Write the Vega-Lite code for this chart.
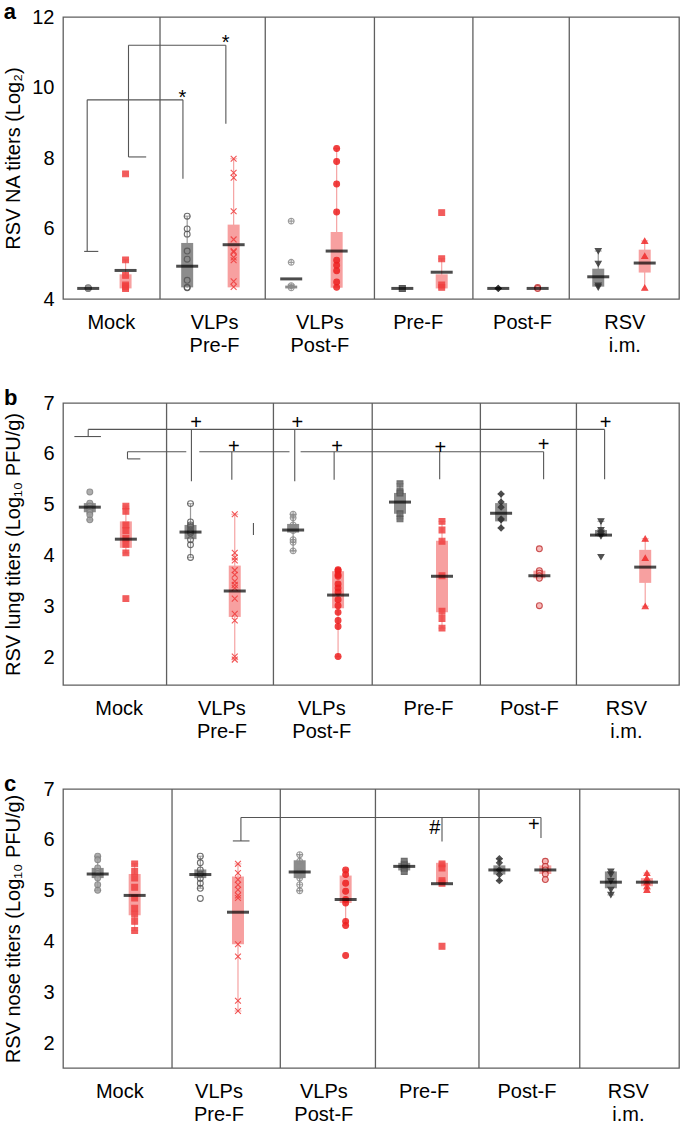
{
"$schema": "https://vega.github.io/schema/vega-lite/v6.json",
"padding": {"left": 3, "top": 0, "right": 0, "bottom": 0},
"spacing": 30,
"config": {
  "font": "Liberation Sans",
  "view": {"stroke": "#5f5f5f", "strokeWidth": 1.3},
  "axis": {"ticks": false, "domain": false, "grid": false, "labelFontSize": 20, "labelColor": "#000", "titleFontSize": 20, "titleFontWeight": "normal", "titleColor": "#000", "labelFont": "Liberation Sans", "titleFont": "Liberation Sans"},
  "axisX": {"labelPadding": 13, "labelLineHeight": 23, "labelOverlap": false, "labelFlush": false},
  "axisY": {"labelPadding": 9, "format": "d"},
  "title": {"anchor": "start", "frame": "bounds", "fontSize": 22, "fontWeight": "bold", "color": "#000", "offset": -17}
},
"datasets": {
"div": [
 {"p":"a","x":0.911},{"p":"a","x":1.953},{"p":"a","x":3.034},{"p":"a","x":4.009},{"p":"a","x":4.963},
 {"p":"b","x":0.976},{"p":"b","x":2.034},{"p":"b","x":3.012},{"p":"b","x":4.083},{"p":"b","x":5.034},
 {"p":"c","x":1.03},{"p":"c","x":2.102},{"p":"c","x":3.044},{"p":"c","x":4.069},{"p":"c","x":5.067}
],
"box": [
 {"id":"a|Mock|1","p":"a","g":"Mock","s":1,"x":0.2,"lo":4.3,"q1":4.3,"q3":4.3,"hi":4.3,"m":4.3},
 {"id":"a|Mock|2","p":"a","g":"Mock","s":2,"x":0.57,"lo":4.3,"q1":4.3,"q3":4.7,"hi":5.11,"m":4.81},
 {"id":"a|VLPs Pre-F|1","p":"a","g":"VLPs Pre-F","s":1,"x":1.18,"lo":4.32,"q1":4.33,"q3":5.59,"hi":6.35,"m":4.93},
 {"id":"a|VLPs Pre-F|2","p":"a","g":"VLPs Pre-F","s":2,"x":1.64,"lo":4.33,"q1":4.33,"q3":6.11,"hi":7.98,"m":5.54},
 {"id":"a|VLPs Post-F|1","p":"a","g":"VLPs Post-F","s":1,"x":2.21,"lo":4.3,"q1":4.3,"q3":4.38,"hi":4.4,"m":4.57},
 {"id":"a|VLPs Post-F|2","p":"a","g":"VLPs Post-F","s":2,"x":2.66,"lo":4.32,"q1":4.32,"q3":5.9,"hi":8.27,"m":5.36},
 {"id":"a|Pre-F|1","p":"a","g":"Pre-F","s":1,"x":3.31,"lo":4.3,"q1":4.3,"q3":4.3,"hi":4.3,"m":4.3},
 {"id":"a|Pre-F|2","p":"a","g":"Pre-F","s":2,"x":3.7,"lo":4.3,"q1":4.3,"q3":4.7,"hi":5.14,"m":4.76},
 {"id":"a|Post-F|1","p":"a","g":"Post-F","s":1,"x":4.26,"lo":4.3,"q1":4.3,"q3":4.3,"hi":4.3,"m":4.3},
 {"id":"a|Post-F|2","p":"a","g":"Post-F","s":2,"x":4.65,"lo":4.3,"q1":4.3,"q3":4.3,"hi":4.3,"m":4.3},
 {"id":"a|RSV i.m.|1","p":"a","g":"RSV i.m.","s":1,"x":5.25,"lo":4.32,"q1":4.35,"q3":4.86,"hi":5.36,"m":4.63},
 {"id":"a|RSV i.m.|2","p":"a","g":"RSV i.m.","s":2,"x":5.71,"lo":4.32,"q1":4.75,"q3":5.4,"hi":5.65,"m":5.02},
 {"id":"b|Mock|1","p":"b","g":"Mock","s":1,"x":0.216,"lo":4.7,"q1":4.85,"q3":5.03,"hi":5.03,"m":4.95},
 {"id":"b|Mock|2","p":"b","g":"Mock","s":2,"x":0.573,"lo":4.05,"q1":4.15,"q3":4.67,"hi":4.97,"m":4.32},
 {"id":"b|VLPs Pre-F|1","p":"b","g":"VLPs Pre-F","s":1,"x":1.213,"lo":3.96,"q1":4.32,"q3":4.6,"hi":5.02,"m":4.46},
 {"id":"b|VLPs Pre-F|2","p":"b","g":"VLPs Pre-F","s":2,"x":1.651,"lo":1.95,"q1":2.79,"q3":3.8,"hi":4.81,"m":3.3},
 {"id":"b|VLPs Post-F|1","p":"b","g":"VLPs Post-F","s":1,"x":2.229,"lo":4.09,"q1":4.45,"q3":4.62,"hi":4.81,"m":4.5},
 {"id":"b|VLPs Post-F|2","p":"b","g":"VLPs Post-F","s":2,"x":2.674,"lo":2.01,"q1":2.96,"q3":3.69,"hi":3.72,"m":3.22},
 {"id":"b|Pre-F|1","p":"b","g":"Pre-F","s":1,"x":3.287,"lo":4.72,"q1":4.82,"q3":5.23,"hi":5.41,"m":5.05},
 {"id":"b|Pre-F|2","p":"b","g":"Pre-F","s":2,"x":3.703,"lo":2.57,"q1":2.88,"q3":4.29,"hi":4.67,"m":3.59},
 {"id":"b|Post-F|1","p":"b","g":"Post-F","s":1,"x":4.288,"lo":4.54,"q1":4.67,"q3":5.03,"hi":5.21,"m":4.83},
 {"id":"b|Post-F|2","p":"b","g":"Post-F","s":2,"x":4.667,"lo":3.55,"q1":3.55,"q3":3.7,"hi":3.7,"m":3.6},
 {"id":"b|RSV i.m.|1","p":"b","g":"RSV i.m.","s":1,"x":5.277,"lo":4.38,"q1":4.38,"q3":4.5,"hi":4.67,"m":4.4},
 {"id":"b|RSV i.m.|2","p":"b","g":"RSV i.m.","s":2,"x":5.715,"lo":3.0,"q1":3.46,"q3":4.11,"hi":4.33,"m":3.77},
 {"id":"c|Mock|1","p":"c","g":"Mock","s":1,"x":0.294,"lo":5.01,"q1":5.25,"q3":5.45,"hi":5.68,"m":5.33},
 {"id":"c|Mock|2","p":"c","g":"Mock","s":2,"x":0.66,"lo":4.22,"q1":4.52,"q3":5.33,"hi":5.53,"m":4.91},
 {"id":"c|VLPs Pre-F|1","p":"c","g":"VLPs Pre-F","s":1,"x":1.31,"lo":5.05,"q1":5.25,"q3":5.42,"hi":5.68,"m":5.32},
 {"id":"c|VLPs Pre-F|2","p":"c","g":"VLPs Pre-F","s":2,"x":1.683,"lo":2.64,"q1":3.95,"q3":5.28,"hi":5.53,"m":4.58},
 {"id":"c|VLPs Post-F|1","p":"c","g":"VLPs Post-F","s":1,"x":2.294,"lo":5.0,"q1":5.25,"q3":5.6,"hi":5.71,"m":5.37},
 {"id":"c|VLPs Post-F|2","p":"c","g":"VLPs Post-F","s":2,"x":2.749,"lo":4.32,"q1":4.76,"q3":5.3,"hi":5.41,"m":4.83},
 {"id":"c|Pre-F|1","p":"c","g":"Pre-F","s":1,"x":3.329,"lo":5.38,"q1":5.4,"q3":5.55,"hi":5.58,"m":5.48},
 {"id":"c|Pre-F|2","p":"c","g":"Pre-F","s":2,"x":3.703,"lo":5.15,"q1":5.15,"q3":5.55,"hi":5.55,"m":5.14},
 {"id":"c|Post-F|1","p":"c","g":"Post-F","s":1,"x":4.271,"lo":5.2,"q1":5.32,"q3":5.5,"hi":5.63,"m":5.41},
 {"id":"c|Post-F|2","p":"c","g":"Post-F","s":2,"x":4.726,"lo":5.22,"q1":5.33,"q3":5.5,"hi":5.58,"m":5.41},
 {"id":"c|RSV i.m.|1","p":"c","g":"RSV i.m.","s":1,"x":5.375,"lo":4.92,"q1":5.05,"q3":5.38,"hi":5.38,"m":5.17},
 {"id":"c|RSV i.m.|2","p":"c","g":"RSV i.m.","s":2,"x":5.732,"lo":5.02,"q1":5.09,"q3":5.25,"hi":5.35,"m":5.17}
],
"pt": [
 {"id":"a|Mock|1","v":4.3},{"id":"a|Mock|1","v":4.3},{"id":"a|Mock|1","v":4.31},{"id":"a|Mock|1","v":4.32},
 {"id":"a|Mock|2","v":7.55},{"id":"a|Mock|2","v":5.11},{"id":"a|Mock|2","v":4.67},{"id":"a|Mock|2","v":4.4},{"id":"a|Mock|2","v":4.35},{"id":"a|Mock|2","v":4.3},
 {"id":"a|VLPs Pre-F|1","v":6.35},{"id":"a|VLPs Pre-F|1","v":5.99},{"id":"a|VLPs Pre-F|1","v":5.84},{"id":"a|VLPs Pre-F|1","v":5.36},{"id":"a|VLPs Pre-F|1","v":5.13},{"id":"a|VLPs Pre-F|1","v":4.53},{"id":"a|VLPs Pre-F|1","v":4.33},{"id":"a|VLPs Pre-F|1","v":4.32},
 {"id":"a|VLPs Pre-F|2","v":7.98},{"id":"a|VLPs Pre-F|2","v":7.58},{"id":"a|VLPs Pre-F|2","v":7.44},{"id":"a|VLPs Pre-F|2","v":6.49},{"id":"a|VLPs Pre-F|2","v":5.69},{"id":"a|VLPs Pre-F|2","v":5.36},{"id":"a|VLPs Pre-F|2","v":5.33},{"id":"a|VLPs Pre-F|2","v":5.18},{"id":"a|VLPs Pre-F|2","v":5.1},{"id":"a|VLPs Pre-F|2","v":4.5},{"id":"a|VLPs Pre-F|2","v":4.34},
 {"id":"a|VLPs Post-F|1","v":6.21},{"id":"a|VLPs Post-F|1","v":5.04},{"id":"a|VLPs Post-F|1","v":4.38},{"id":"a|VLPs Post-F|1","v":4.32},
 {"id":"a|VLPs Post-F|2","v":8.27},{"id":"a|VLPs Post-F|2","v":7.9},{"id":"a|VLPs Post-F|2","v":7.26},{"id":"a|VLPs Post-F|2","v":6.47},{"id":"a|VLPs Post-F|2","v":5.1},{"id":"a|VLPs Post-F|2","v":4.96},{"id":"a|VLPs Post-F|2","v":4.8},{"id":"a|VLPs Post-F|2","v":4.48},{"id":"a|VLPs Post-F|2","v":4.33},
 {"id":"a|Pre-F|1","v":4.3},{"id":"a|Pre-F|1","v":4.3},
 {"id":"a|Pre-F|2","v":6.45},{"id":"a|Pre-F|2","v":5.14},{"id":"a|Pre-F|2","v":4.4},{"id":"a|Pre-F|2","v":4.33},
 {"id":"a|Post-F|1","v":4.3},{"id":"a|Post-F|1","v":4.3},
 {"id":"a|Post-F|2","v":4.33},{"id":"a|Post-F|2","v":4.3},
 {"id":"a|RSV i.m.|1","v":5.36},{"id":"a|RSV i.m.|1","v":5.0},{"id":"a|RSV i.m.|1","v":4.38},{"id":"a|RSV i.m.|1","v":4.33},
 {"id":"a|RSV i.m.|2","v":5.65},{"id":"a|RSV i.m.|2","v":5.22},{"id":"a|RSV i.m.|2","v":4.32},
 {"id":"b|Mock|1","v":5.25},{"id":"b|Mock|1","v":5.03},{"id":"b|Mock|1","v":4.97},{"id":"b|Mock|1","v":4.93},{"id":"b|Mock|1","v":4.9},{"id":"b|Mock|1","v":4.85},{"id":"b|Mock|1","v":4.8},{"id":"b|Mock|1","v":4.7},
 {"id":"b|Mock|2","v":4.97},{"id":"b|Mock|2","v":4.87},{"id":"b|Mock|2","v":4.6},{"id":"b|Mock|2","v":4.49},{"id":"b|Mock|2","v":4.34},{"id":"b|Mock|2","v":4.22},{"id":"b|Mock|2","v":4.05},{"id":"b|Mock|2","v":3.15},
 {"id":"b|VLPs Pre-F|1","v":5.02},{"id":"b|VLPs Pre-F|1","v":4.66},{"id":"b|VLPs Pre-F|1","v":4.6},{"id":"b|VLPs Pre-F|1","v":4.57},{"id":"b|VLPs Pre-F|1","v":4.51},{"id":"b|VLPs Pre-F|1","v":4.47},{"id":"b|VLPs Pre-F|1","v":4.44},{"id":"b|VLPs Pre-F|1","v":4.31},{"id":"b|VLPs Pre-F|1","v":4.21},{"id":"b|VLPs Pre-F|1","v":3.96},
 {"id":"b|VLPs Pre-F|2","v":4.81},{"id":"b|VLPs Pre-F|2","v":4.05},{"id":"b|VLPs Pre-F|2","v":3.96},{"id":"b|VLPs Pre-F|2","v":3.9},{"id":"b|VLPs Pre-F|2","v":3.71},{"id":"b|VLPs Pre-F|2","v":3.62},{"id":"b|VLPs Pre-F|2","v":3.49},{"id":"b|VLPs Pre-F|2","v":3.42},{"id":"b|VLPs Pre-F|2","v":3.36},{"id":"b|VLPs Pre-F|2","v":3.15},{"id":"b|VLPs Pre-F|2","v":2.85},{"id":"b|VLPs Pre-F|2","v":2.72},{"id":"b|VLPs Pre-F|2","v":2.01},{"id":"b|VLPs Pre-F|2","v":1.95},
 {"id":"b|VLPs Post-F|1","v":4.81},{"id":"b|VLPs Post-F|1","v":4.74},{"id":"b|VLPs Post-F|1","v":4.6},{"id":"b|VLPs Post-F|1","v":4.55},{"id":"b|VLPs Post-F|1","v":4.49},{"id":"b|VLPs Post-F|1","v":4.31},{"id":"b|VLPs Post-F|1","v":4.26},{"id":"b|VLPs Post-F|1","v":4.09},
 {"id":"b|VLPs Post-F|2","v":3.72},{"id":"b|VLPs Post-F|2","v":3.7},{"id":"b|VLPs Post-F|2","v":3.62},{"id":"b|VLPs Post-F|2","v":3.59},{"id":"b|VLPs Post-F|2","v":3.44},{"id":"b|VLPs Post-F|2","v":3.36},{"id":"b|VLPs Post-F|2","v":3.28},{"id":"b|VLPs Post-F|2","v":3.13},{"id":"b|VLPs Post-F|2","v":3.01},{"id":"b|VLPs Post-F|2","v":2.88},{"id":"b|VLPs Post-F|2","v":2.72},{"id":"b|VLPs Post-F|2","v":2.6},{"id":"b|VLPs Post-F|2","v":2.01},
 {"id":"b|Pre-F|1","v":5.41},{"id":"b|Pre-F|1","v":5.27},{"id":"b|Pre-F|1","v":5.23},{"id":"b|Pre-F|1","v":4.82},{"id":"b|Pre-F|1","v":4.72},
 {"id":"b|Pre-F|2","v":4.67},{"id":"b|Pre-F|2","v":4.5},{"id":"b|Pre-F|2","v":4.28},{"id":"b|Pre-F|2","v":3.6},{"id":"b|Pre-F|2","v":2.9},{"id":"b|Pre-F|2","v":2.76},{"id":"b|Pre-F|2","v":2.57},
 {"id":"b|Post-F|1","v":5.21},{"id":"b|Post-F|1","v":5.05},{"id":"b|Post-F|1","v":4.95},{"id":"b|Post-F|1","v":4.72},{"id":"b|Post-F|1","v":4.7},{"id":"b|Post-F|1","v":4.54},
 {"id":"b|Post-F|2","v":4.13},{"id":"b|Post-F|2","v":3.7},{"id":"b|Post-F|2","v":3.65},{"id":"b|Post-F|2","v":3.6},{"id":"b|Post-F|2","v":3.55},{"id":"b|Post-F|2","v":3.01},
 {"id":"b|RSV i.m.|1","v":4.67},{"id":"b|RSV i.m.|1","v":4.5},{"id":"b|RSV i.m.|1","v":4.45},{"id":"b|RSV i.m.|1","v":4.42},{"id":"b|RSV i.m.|1","v":4.38},{"id":"b|RSV i.m.|1","v":3.97},
 {"id":"b|RSV i.m.|2","v":4.33},{"id":"b|RSV i.m.|2","v":3.95},{"id":"b|RSV i.m.|2","v":3.0},
 {"id":"c|Mock|1","v":5.68},{"id":"c|Mock|1","v":5.61},{"id":"c|Mock|1","v":5.45},{"id":"c|Mock|1","v":5.38},{"id":"c|Mock|1","v":5.34},{"id":"c|Mock|1","v":5.25},{"id":"c|Mock|1","v":5.12},{"id":"c|Mock|1","v":5.01},
 {"id":"c|Mock|2","v":5.53},{"id":"c|Mock|2","v":5.38},{"id":"c|Mock|2","v":5.25},{"id":"c|Mock|2","v":5.07},{"id":"c|Mock|2","v":4.86},{"id":"c|Mock|2","v":4.66},{"id":"c|Mock|2","v":4.54},{"id":"c|Mock|2","v":4.4},{"id":"c|Mock|2","v":4.22},
 {"id":"c|VLPs Pre-F|1","v":5.68},{"id":"c|VLPs Pre-F|1","v":5.55},{"id":"c|VLPs Pre-F|1","v":5.41},{"id":"c|VLPs Pre-F|1","v":5.33},{"id":"c|VLPs Pre-F|1","v":5.24},{"id":"c|VLPs Pre-F|1","v":5.15},{"id":"c|VLPs Pre-F|1","v":5.05},{"id":"c|VLPs Pre-F|1","v":4.85},
 {"id":"c|VLPs Pre-F|2","v":5.53},{"id":"c|VLPs Pre-F|2","v":5.35},{"id":"c|VLPs Pre-F|2","v":5.22},{"id":"c|VLPs Pre-F|2","v":5.12},{"id":"c|VLPs Pre-F|2","v":5.02},{"id":"c|VLPs Pre-F|2","v":4.91},{"id":"c|VLPs Pre-F|2","v":4.86},{"id":"c|VLPs Pre-F|2","v":3.95},{"id":"c|VLPs Pre-F|2","v":3.71},{"id":"c|VLPs Pre-F|2","v":2.84},{"id":"c|VLPs Pre-F|2","v":2.64},
 {"id":"c|VLPs Post-F|1","v":5.71},{"id":"c|VLPs Post-F|1","v":5.58},{"id":"c|VLPs Post-F|1","v":5.38},{"id":"c|VLPs Post-F|1","v":5.25},{"id":"c|VLPs Post-F|1","v":5.12},{"id":"c|VLPs Post-F|1","v":5.0},
 {"id":"c|VLPs Post-F|2","v":5.41},{"id":"c|VLPs Post-F|2","v":5.32},{"id":"c|VLPs Post-F|2","v":5.15},{"id":"c|VLPs Post-F|2","v":4.99},{"id":"c|VLPs Post-F|2","v":4.83},{"id":"c|VLPs Post-F|2","v":4.76},{"id":"c|VLPs Post-F|2","v":4.4},{"id":"c|VLPs Post-F|2","v":4.32},{"id":"c|VLPs Post-F|2","v":3.73},
 {"id":"c|Pre-F|1","v":5.58},{"id":"c|Pre-F|1","v":5.51},{"id":"c|Pre-F|1","v":5.45},{"id":"c|Pre-F|1","v":5.38},
 {"id":"c|Pre-F|2","v":5.53},{"id":"c|Pre-F|2","v":5.45},{"id":"c|Pre-F|2","v":5.2},{"id":"c|Pre-F|2","v":5.15},{"id":"c|Pre-F|2","v":3.91},
 {"id":"c|Post-F|1","v":5.63},{"id":"c|Post-F|1","v":5.55},{"id":"c|Post-F|1","v":5.41},{"id":"c|Post-F|1","v":5.32},{"id":"c|Post-F|1","v":5.2},
 {"id":"c|Post-F|2","v":5.58},{"id":"c|Post-F|2","v":5.48},{"id":"c|Post-F|2","v":5.41},{"id":"c|Post-F|2","v":5.33},{"id":"c|Post-F|2","v":5.22},
 {"id":"c|RSV i.m.|1","v":5.38},{"id":"c|RSV i.m.|1","v":5.32},{"id":"c|RSV i.m.|1","v":5.19},{"id":"c|RSV i.m.|1","v":5.02},{"id":"c|RSV i.m.|1","v":4.92},
 {"id":"c|RSV i.m.|2","v":5.35},{"id":"c|RSV i.m.|2","v":5.25},{"id":"c|RSV i.m.|2","v":5.17},{"id":"c|RSV i.m.|2","v":5.09},{"id":"c|RSV i.m.|2","v":5.02}
],
"br": [
 {"p":"a","x":0.19,"x2":0.19,"y":5.35,"y2":9.65},
 {"p":"a","x":0.16,"x2":0.3,"y":5.35,"y2":5.35},
 {"p":"a","x":0.19,"x2":1.138,"y":9.65,"y2":9.65},
 {"p":"a","x":1.138,"x2":1.138,"y":7.41,"y2":9.65},
 {"p":"a","x":0.599,"x2":0.599,"y":8.03,"y2":11.2},
 {"p":"a","x":0.599,"x2":0.774,"y":8.03,"y2":8.03},
 {"p":"a","x":0.599,"x2":1.563,"y":11.2,"y2":11.2},
 {"p":"a","x":1.563,"x2":1.563,"y":8.97,"y2":11.2},
 {"p":"b","x":0.063,"x2":0.326,"y":6.34,"y2":6.34},
 {"p":"b","x":0.2,"x2":0.2,"y":6.34,"y2":6.48},
 {"p":"b","x":0.2,"x2":5.313,"y":6.48,"y2":6.48},
 {"p":"b","x":1.222,"x2":1.222,"y":5.46,"y2":6.48},
 {"p":"b","x":2.245,"x2":2.245,"y":5.46,"y2":6.48},
 {"p":"b","x":5.313,"x2":5.313,"y":5.5,"y2":6.48},
 {"p":"b","x":0.589,"x2":0.716,"y":5.9,"y2":5.9},
 {"p":"b","x":0.589,"x2":0.589,"y":5.9,"y2":6.04},
 {"p":"b","x":0.589,"x2":1.171,"y":6.04,"y2":6.04},
 {"p":"b","x":1.3,"x2":2.193,"y":6.04,"y2":6.04},
 {"p":"b","x":2.303,"x2":4.709,"y":6.04,"y2":6.04},
 {"p":"b","x":1.622,"x2":1.622,"y":5.49,"y2":6.04},
 {"p":"b","x":2.635,"x2":2.635,"y":5.49,"y2":6.04},
 {"p":"b","x":3.68,"x2":3.68,"y":5.5,"y2":6.04},
 {"p":"b","x":4.709,"x2":4.709,"y":5.5,"y2":6.04},
 {"p":"b","x":1.836,"x2":1.836,"y":4.4,"y2":4.64},
 {"p":"c","x":1.632,"x2":1.797,"y":5.98,"y2":5.98},
 {"p":"c","x":1.712,"x2":1.712,"y":5.98,"y2":6.44},
 {"p":"c","x":1.712,"x2":4.683,"y":6.44,"y2":6.44},
 {"p":"c","x":3.703,"x2":3.703,"y":5.97,"y2":6.44},
 {"p":"c","x":4.683,"x2":4.683,"y":6.04,"y2":6.44}
],
"mk": [
 {"p":"a","x":1.132,"y":9.52,"t":"*"},
 {"p":"a","x":1.56,"y":11.09,"t":"*"},
 {"p":"b","x":1.268,"y":6.48,"t":"+"},
 {"p":"b","x":2.27,"y":6.48,"t":"+"},
 {"p":"b","x":5.323,"y":6.48,"t":"+"},
 {"p":"b","x":1.641,"y":6.01,"t":"+"},
 {"p":"b","x":2.664,"y":6.01,"t":"+"},
 {"p":"b","x":3.687,"y":6.0,"t":"+"},
 {"p":"b","x":4.709,"y":6.06,"t":"+"},
 {"p":"c","x":3.631,"y":6.12,"t":"#"},
 {"p":"c","x":4.612,"y":6.17,"t":"+"}
]
},
"vconcat": [
{
 "width": 616, "height": 282,
 "title": {"text": "a"},
 "layer": [
  {"data":{"name":"div"},"transform":[{"filter":"datum.p=='a'"}],
   "mark":{"type":"rule","color":"#5f5f5f","strokeWidth":1.3},
   "encoding":{"x":{"field":"x","type":"quantitative","scale":{"domain":[0,6],"nice":false,"zero":false},"title":null,
     "axis":{"values":[0.424,1.446,2.489,3.462,4.495,5.508],"labelExpr":"datum.value < 1 ? 'Mock' : datum.value < 2 ? ['VLPs','Pre-F'] : datum.value < 3 ? ['VLPs','Post-F'] : datum.value < 4 ? 'Pre-F' : datum.value < 5 ? 'Post-F' : ['RSV','i.m.']"}}}},
  {"data":{"name":"box"},"transform":[{"filter":"datum.p=='a'"}],
   "mark":{"type":"rule","strokeWidth":1.2},
   "encoding":{"x":{"field":"x","type":"quantitative","scale":{"domain":[0,6],"nice":false,"zero":false},"title":null},
     "y":{"field":"lo","type":"quantitative","scale":{"domain":[4,12],"nice":false,"zero":false},"title":"RSV NA titers (Log₂)","axis":{"values":[4,5,6,7,8,9,10,11,12],"titlePadding":8}},
     "y2":{"field":"hi"},
     "color":{"condition":{"test":"datum.s==1","value":"#9a9a9a"},"value":"#f5a3a3"}}},
  {"data":{"name":"box"},"transform":[{"filter":"datum.p=='a'"}],
   "mark":{"type":"bar","width":12},
   "encoding":{"x":{"field":"x","type":"quantitative","scale":{"domain":[0,6],"nice":false,"zero":false},"title":null},
     "y":{"field":"q1","type":"quantitative","scale":{"domain":[4,12],"nice":false,"zero":false},"title":"RSV NA titers (Log₂)"},
     "y2":{"field":"q3"},
     "color":{"condition":{"test":"datum.s==1","value":"#8c8c8c"},"value":"#f7a0a0"}}},
  {"data":{"name":"box"},"transform":[{"filter":"datum.p=='a'"}],
   "mark":{"type":"tick","orient":"horizontal","size":7,"thickness":1.2},
   "encoding":{"x":{"field":"x","type":"quantitative","scale":{"domain":[0,6],"nice":false,"zero":false},"title":null},
     "y":{"field":"hi","type":"quantitative","scale":{"domain":[4,12],"nice":false,"zero":false},"title":"RSV NA titers (Log₂)"},
     "color":{"condition":{"test":"datum.s==1","value":"#8a8a8a"},"value":"#f39a9a"}}},
  {"data":{"name":"pt"},"transform":[{"lookup":"id","from":{"data":{"name":"box"},"key":"id","fields":["p","g","s","x"]}},{"filter":"datum.p=='a'"},{"calculate":"datum.g + '|' + datum.s","as":"k"}],
   "mark":{"type":"point","size":34,"strokeWidth":1.1,"opacity":0.85,"filled":true},
   "encoding":{"x":{"field":"x","type":"quantitative","scale":{"domain":[0,6],"nice":false,"zero":false},"title":null},
     "y":{"field":"v","type":"quantitative","scale":{"domain":[4,12],"nice":false,"zero":false},"title":"RSV NA titers (Log₂)"},
     "shape":{"field":"k","type":"nominal","legend":null,"scale":{"domain":["Mock|1","Mock|2","VLPs Pre-F|1","VLPs Pre-F|2","VLPs Post-F|1","VLPs Post-F|2","Pre-F|1","Pre-F|2","Post-F|1","Post-F|2","RSV i.m.|1","RSV i.m.|2"],"range":["circle","square","circle","M-1,-1L1,1M-1,1L1,-1","M-1,0A1,1,0,1,1,1,0A1,1,0,1,1,-1,0M-1,0L1,0M0,-1L0,1","circle","square","square","diamond","circle","triangle-down","triangle-up"]}},
     "fill":{"field":"k","type":"nominal","legend":null,"scale":{"domain":["Mock|1","Mock|2","VLPs Pre-F|1","VLPs Pre-F|2","VLPs Post-F|1","VLPs Post-F|2","Pre-F|1","Pre-F|2","Post-F|1","Post-F|2","RSV i.m.|1","RSV i.m.|2"],"range":["#a0a0a0","#f04040","rgba(0,0,0,0)","rgba(0,0,0,0)","rgba(0,0,0,0)","#ee2020","#666666","#f04040","#333333","#f7b0b0","#333333","#f02a2a"]}},
     "stroke":{"field":"k","type":"nominal","legend":null,"scale":{"domain":["Mock|1","Mock|2","VLPs Pre-F|1","VLPs Pre-F|2","VLPs Post-F|1","VLPs Post-F|2","Pre-F|1","Pre-F|2","Post-F|1","Post-F|2","RSV i.m.|1","RSV i.m.|2"],"range":["#808080","#f04040","#555555","#f03a3a","#8a8a8a","#ee2020","#555555","#f04040","#333333","#c03030","#333333","#f02a2a"]}}}},
  {"data":{"name":"box"},"transform":[{"filter":"datum.p=='a'"}],
   "mark":{"type":"tick","orient":"horizontal","size":22,"thickness":3,"color":"#000"},
   "encoding":{"x":{"field":"x","type":"quantitative","scale":{"domain":[0,6],"nice":false,"zero":false},"title":null},
     "y":{"field":"m","type":"quantitative","scale":{"domain":[4,12],"nice":false,"zero":false},"title":"RSV NA titers (Log₂)"}}},
  {"data":{"name":"br"},"transform":[{"filter":"datum.p=='a'"}],
   "mark":{"type":"rule","color":"#555555","strokeWidth":1.1},
   "encoding":{"x":{"field":"x","type":"quantitative","scale":{"domain":[0,6],"nice":false,"zero":false},"title":null},"x2":{"field":"x2"},
     "y":{"field":"y","type":"quantitative","scale":{"domain":[4,12],"nice":false,"zero":false},"title":"RSV NA titers (Log₂)"},"y2":{"field":"y2"}}},
  {"data":{"name":"mk"},"transform":[{"filter":"datum.p=='a'"}],
   "mark":{"type":"text","fontSize":20,"baseline":"alphabetic","align":"center","color":"#000"},
   "encoding":{"x":{"field":"x","type":"quantitative","scale":{"domain":[0,6],"nice":false,"zero":false},"title":null},
     "y":{"field":"y","type":"quantitative","scale":{"domain":[4,12],"nice":false,"zero":false},"title":"RSV NA titers (Log₂)"},
     "text":{"field":"t"}}}
 ]
},
{
 "width": 616, "height": 282,
 "title": {"text": "b"},
 "layer": [
  {"data":{"name":"div"},"transform":[{"filter":"datum.p=='b'"}],
   "mark":{"type":"rule","color":"#5f5f5f","strokeWidth":1.3},
   "encoding":{"x":{"field":"x","type":"quantitative","scale":{"domain":[0,6],"nice":false,"zero":false},"title":null,
     "axis":{"values":[0.502,1.519,2.508,3.565,4.563,5.524],"labelExpr":"datum.value < 1 ? 'Mock' : datum.value < 2 ? ['VLPs','Pre-F'] : datum.value < 3 ? ['VLPs','Post-F'] : datum.value < 4 ? 'Pre-F' : datum.value < 5 ? 'Post-F' : ['RSV','i.m.']"}}}},
  {"data":{"name":"box"},"transform":[{"filter":"datum.p=='b'"}],
   "mark":{"type":"rule","strokeWidth":1.2},
   "encoding":{"x":{"field":"x","type":"quantitative","scale":{"domain":[0,6],"nice":false,"zero":false},"title":null},
     "y":{"field":"lo","type":"quantitative","scale":{"domain":[1.45,7],"nice":false,"zero":false},"title":"RSV lung titers (Log₁₀ PFU/g)","axis":{"values":[2,3,4,5,6,7],"titlePadding":19}},
     "y2":{"field":"hi"},
     "color":{"condition":{"test":"datum.s==1","value":"#9a9a9a"},"value":"#f5a3a3"}}},
  {"data":{"name":"box"},"transform":[{"filter":"datum.p=='b'"}],
   "mark":{"type":"bar","width":12},
   "encoding":{"x":{"field":"x","type":"quantitative","scale":{"domain":[0,6],"nice":false,"zero":false},"title":null},
     "y":{"field":"q1","type":"quantitative","scale":{"domain":[1.45,7],"nice":false,"zero":false},"title":"RSV lung titers (Log₁₀ PFU/g)"},
     "y2":{"field":"q3"},
     "color":{"condition":{"test":"datum.s==1","value":"#8c8c8c"},"value":"#f7a0a0"}}},
  {"data":{"name":"box"},"transform":[{"filter":"datum.p=='b'"}],
   "mark":{"type":"tick","orient":"horizontal","size":7,"thickness":1.2},
   "encoding":{"x":{"field":"x","type":"quantitative","scale":{"domain":[0,6],"nice":false,"zero":false},"title":null},
     "y":{"field":"hi","type":"quantitative","scale":{"domain":[1.45,7],"nice":false,"zero":false},"title":"RSV lung titers (Log₁₀ PFU/g)"},
     "color":{"condition":{"test":"datum.s==1","value":"#8a8a8a"},"value":"#f39a9a"}}},
  {"data":{"name":"box"},"transform":[{"filter":"datum.p=='b'"}],
   "mark":{"type":"tick","orient":"horizontal","size":7,"thickness":1.2},
   "encoding":{"x":{"field":"x","type":"quantitative","scale":{"domain":[0,6],"nice":false,"zero":false},"title":null},
     "y":{"field":"lo","type":"quantitative","scale":{"domain":[1.45,7],"nice":false,"zero":false},"title":"RSV lung titers (Log₁₀ PFU/g)"},
     "color":{"condition":{"test":"datum.s==1","value":"#8a8a8a"},"value":"#f39a9a"}}},
  {"data":{"name":"pt"},"transform":[{"lookup":"id","from":{"data":{"name":"box"},"key":"id","fields":["p","g","s","x"]}},{"filter":"datum.p=='b'"},{"calculate":"datum.g + '|' + datum.s","as":"k"}],
   "mark":{"type":"point","size":34,"strokeWidth":1.1,"opacity":0.85,"filled":true},
   "encoding":{"x":{"field":"x","type":"quantitative","scale":{"domain":[0,6],"nice":false,"zero":false},"title":null},
     "y":{"field":"v","type":"quantitative","scale":{"domain":[1.45,7],"nice":false,"zero":false},"title":"RSV lung titers (Log₁₀ PFU/g)"},
     "shape":{"field":"k","type":"nominal","legend":null,"scale":{"domain":["Mock|1","Mock|2","VLPs Pre-F|1","VLPs Pre-F|2","VLPs Post-F|1","VLPs Post-F|2","Pre-F|1","Pre-F|2","Post-F|1","Post-F|2","RSV i.m.|1","RSV i.m.|2"],"range":["circle","square","circle","M-1,-1L1,1M-1,1L1,-1","M-1,0L1,0M0,-1L0,1","circle","square","square","diamond","circle","triangle-down","triangle-up"]}},
     "fill":{"field":"k","type":"nominal","legend":null,"scale":{"domain":["Mock|1","Mock|2","VLPs Pre-F|1","VLPs Pre-F|2","VLPs Post-F|1","VLPs Post-F|2","Pre-F|1","Pre-F|2","Post-F|1","Post-F|2","RSV i.m.|1","RSV i.m.|2"],"range":["#777777","#f03030","rgba(0,0,0,0)","rgba(0,0,0,0)","rgba(0,0,0,0)","#ee2020","#111111","#f03030","#444444","#f7b0b0","#555555","#f03030"]}},
     "stroke":{"field":"k","type":"nominal","legend":null,"scale":{"domain":["Mock|1","Mock|2","VLPs Pre-F|1","VLPs Pre-F|2","VLPs Post-F|1","VLPs Post-F|2","Pre-F|1","Pre-F|2","Post-F|1","Post-F|2","RSV i.m.|1","RSV i.m.|2"],"range":["#555555","#f03030","#444444","#f03a3a","#222222","#ee2020","#111111","#f03030","#444444","#b03030","#555555","#f03030"]}}}},
  {"data":{"name":"box"},"transform":[{"filter":"datum.p=='b'"}],
   "mark":{"type":"tick","orient":"horizontal","size":22,"thickness":3,"color":"#000"},
   "encoding":{"x":{"field":"x","type":"quantitative","scale":{"domain":[0,6],"nice":false,"zero":false},"title":null},
     "y":{"field":"m","type":"quantitative","scale":{"domain":[1.45,7],"nice":false,"zero":false},"title":"RSV lung titers (Log₁₀ PFU/g)"}}},
  {"data":{"name":"br"},"transform":[{"filter":"datum.p=='b'"}],
   "mark":{"type":"rule","color":"#555555","strokeWidth":1.1},
   "encoding":{"x":{"field":"x","type":"quantitative","scale":{"domain":[0,6],"nice":false,"zero":false},"title":null},"x2":{"field":"x2"},
     "y":{"field":"y","type":"quantitative","scale":{"domain":[1.45,7],"nice":false,"zero":false},"title":"RSV lung titers (Log₁₀ PFU/g)"},"y2":{"field":"y2"}}},
  {"data":{"name":"mk"},"transform":[{"filter":"datum.p=='b'"}],
   "mark":{"type":"text","fontSize":20,"baseline":"alphabetic","align":"center","color":"#000"},
   "encoding":{"x":{"field":"x","type":"quantitative","scale":{"domain":[0,6],"nice":false,"zero":false},"title":null},
     "y":{"field":"y","type":"quantitative","scale":{"domain":[1.45,7],"nice":false,"zero":false},"title":"RSV lung titers (Log₁₀ PFU/g)"},
     "text":{"field":"t"}}}
 ]
},
{
 "width": 616, "height": 279,
 "title": {"text": "c"},
 "layer": [
  {"data":{"name":"div"},"transform":[{"filter":"datum.p=='c'"}],
   "mark":{"type":"rule","color":"#5f5f5f","strokeWidth":1.3},
   "encoding":{"x":{"field":"x","type":"quantitative","scale":{"domain":[0,6],"nice":false,"zero":false},"title":null,
     "axis":{"values":[0.508,1.49,2.528,3.521,4.539,5.543],"labelExpr":"datum.value < 1 ? 'Mock' : datum.value < 2 ? ['VLPs','Pre-F'] : datum.value < 3 ? ['VLPs','Post-F'] : datum.value < 4 ? 'Pre-F' : datum.value < 5 ? 'Post-F' : ['RSV','i.m.']"}}}},
  {"data":{"name":"box"},"transform":[{"filter":"datum.p=='c'"}],
   "mark":{"type":"rule","strokeWidth":1.2},
   "encoding":{"x":{"field":"x","type":"quantitative","scale":{"domain":[0,6],"nice":false,"zero":false},"title":null},
     "y":{"field":"lo","type":"quantitative","scale":{"domain":[1.52,7],"nice":false,"zero":false},"title":"RSV nose titers (Log₁₀ PFU/g)","axis":{"values":[2,3,4,5,6,7],"titlePadding":19}},
     "y2":{"field":"hi"},
     "color":{"condition":{"test":"datum.s==1","value":"#9a9a9a"},"value":"#f5a3a3"}}},
  {"data":{"name":"box"},"transform":[{"filter":"datum.p=='c'"}],
   "mark":{"type":"bar","width":12},
   "encoding":{"x":{"field":"x","type":"quantitative","scale":{"domain":[0,6],"nice":false,"zero":false},"title":null},
     "y":{"field":"q1","type":"quantitative","scale":{"domain":[1.52,7],"nice":false,"zero":false},"title":"RSV nose titers (Log₁₀ PFU/g)"},
     "y2":{"field":"q3"},
     "color":{"condition":{"test":"datum.s==1","value":"#8c8c8c"},"value":"#f7a0a0"}}},
  {"data":{"name":"box"},"transform":[{"filter":"datum.p=='c'"}],
   "mark":{"type":"tick","orient":"horizontal","size":7,"thickness":1.2},
   "encoding":{"x":{"field":"x","type":"quantitative","scale":{"domain":[0,6],"nice":false,"zero":false},"title":null},
     "y":{"field":"hi","type":"quantitative","scale":{"domain":[1.52,7],"nice":false,"zero":false},"title":"RSV nose titers (Log₁₀ PFU/g)"},
     "color":{"condition":{"test":"datum.s==1","value":"#8a8a8a"},"value":"#f39a9a"}}},
  {"data":{"name":"box"},"transform":[{"filter":"datum.p=='c'"}],
   "mark":{"type":"tick","orient":"horizontal","size":7,"thickness":1.2},
   "encoding":{"x":{"field":"x","type":"quantitative","scale":{"domain":[0,6],"nice":false,"zero":false},"title":null},
     "y":{"field":"lo","type":"quantitative","scale":{"domain":[1.52,7],"nice":false,"zero":false},"title":"RSV nose titers (Log₁₀ PFU/g)"},
     "color":{"condition":{"test":"datum.s==1","value":"#8a8a8a"},"value":"#f39a9a"}}},
  {"data":{"name":"pt"},"transform":[{"lookup":"id","from":{"data":{"name":"box"},"key":"id","fields":["p","g","s","x"]}},{"filter":"datum.p=='c'"},{"calculate":"datum.g + '|' + datum.s","as":"k"}],
   "mark":{"type":"point","size":34,"strokeWidth":1.1,"opacity":0.85,"filled":true},
   "encoding":{"x":{"field":"x","type":"quantitative","scale":{"domain":[0,6],"nice":false,"zero":false},"title":null},
     "y":{"field":"v","type":"quantitative","scale":{"domain":[1.52,7],"nice":false,"zero":false},"title":"RSV nose titers (Log₁₀ PFU/g)"},
     "shape":{"field":"k","type":"nominal","legend":null,"scale":{"domain":["Mock|1","Mock|2","VLPs Pre-F|1","VLPs Pre-F|2","VLPs Post-F|1","VLPs Post-F|2","Pre-F|1","Pre-F|2","Post-F|1","Post-F|2","RSV i.m.|1","RSV i.m.|2"],"range":["circle","square","circle","M-1,-1L1,1M-1,1L1,-1","M-1,0L1,0M0,-1L0,1","circle","square","square","diamond","circle","triangle-down","triangle-up"]}},
     "fill":{"field":"k","type":"nominal","legend":null,"scale":{"domain":["Mock|1","Mock|2","VLPs Pre-F|1","VLPs Pre-F|2","VLPs Post-F|1","VLPs Post-F|2","Pre-F|1","Pre-F|2","Post-F|1","Post-F|2","RSV i.m.|1","RSV i.m.|2"],"range":["#555555","#f03030","rgba(0,0,0,0)","rgba(0,0,0,0)","rgba(0,0,0,0)","#f06060","#444444","#f03030","#222222","#f03030","#444444","#f04040"]}},
     "stroke":{"field":"k","type":"nominal","legend":null,"scale":{"domain":["Mock|1","Mock|2","VLPs Pre-F|1","VLPs Pre-F|2","VLPs Post-F|1","VLPs Post-F|2","Pre-F|1","Pre-F|2","Post-F|1","Post-F|2","RSV i.m.|1","RSV i.m.|2"],"range":["#444444","#f03030","#444444","#f03a3a","#333333","#f06060","#444444","#f03030","#222222","#f03030","#444444","#f04040"]}}}},
  {"data":{"name":"box"},"transform":[{"filter":"datum.p=='c'"}],
   "mark":{"type":"tick","orient":"horizontal","size":22,"thickness":3,"color":"#000"},
   "encoding":{"x":{"field":"x","type":"quantitative","scale":{"domain":[0,6],"nice":false,"zero":false},"title":null},
     "y":{"field":"m","type":"quantitative","scale":{"domain":[1.52,7],"nice":false,"zero":false},"title":"RSV nose titers (Log₁₀ PFU/g)"}}},
  {"data":{"name":"br"},"transform":[{"filter":"datum.p=='c'"}],
   "mark":{"type":"rule","color":"#555555","strokeWidth":1.1},
   "encoding":{"x":{"field":"x","type":"quantitative","scale":{"domain":[0,6],"nice":false,"zero":false},"title":null},"x2":{"field":"x2"},
     "y":{"field":"y","type":"quantitative","scale":{"domain":[1.52,7],"nice":false,"zero":false},"title":"RSV nose titers (Log₁₀ PFU/g)"},"y2":{"field":"y2"}}},
  {"data":{"name":"mk"},"transform":[{"filter":"datum.p=='c'"}],
   "mark":{"type":"text","fontSize":20,"baseline":"alphabetic","align":"center","color":"#000"},
   "encoding":{"x":{"field":"x","type":"quantitative","scale":{"domain":[0,6],"nice":false,"zero":false},"title":null},
     "y":{"field":"y","type":"quantitative","scale":{"domain":[1.52,7],"nice":false,"zero":false},"title":"RSV nose titers (Log₁₀ PFU/g)"},
     "text":{"field":"t"}}}
 ]
}
]
}
